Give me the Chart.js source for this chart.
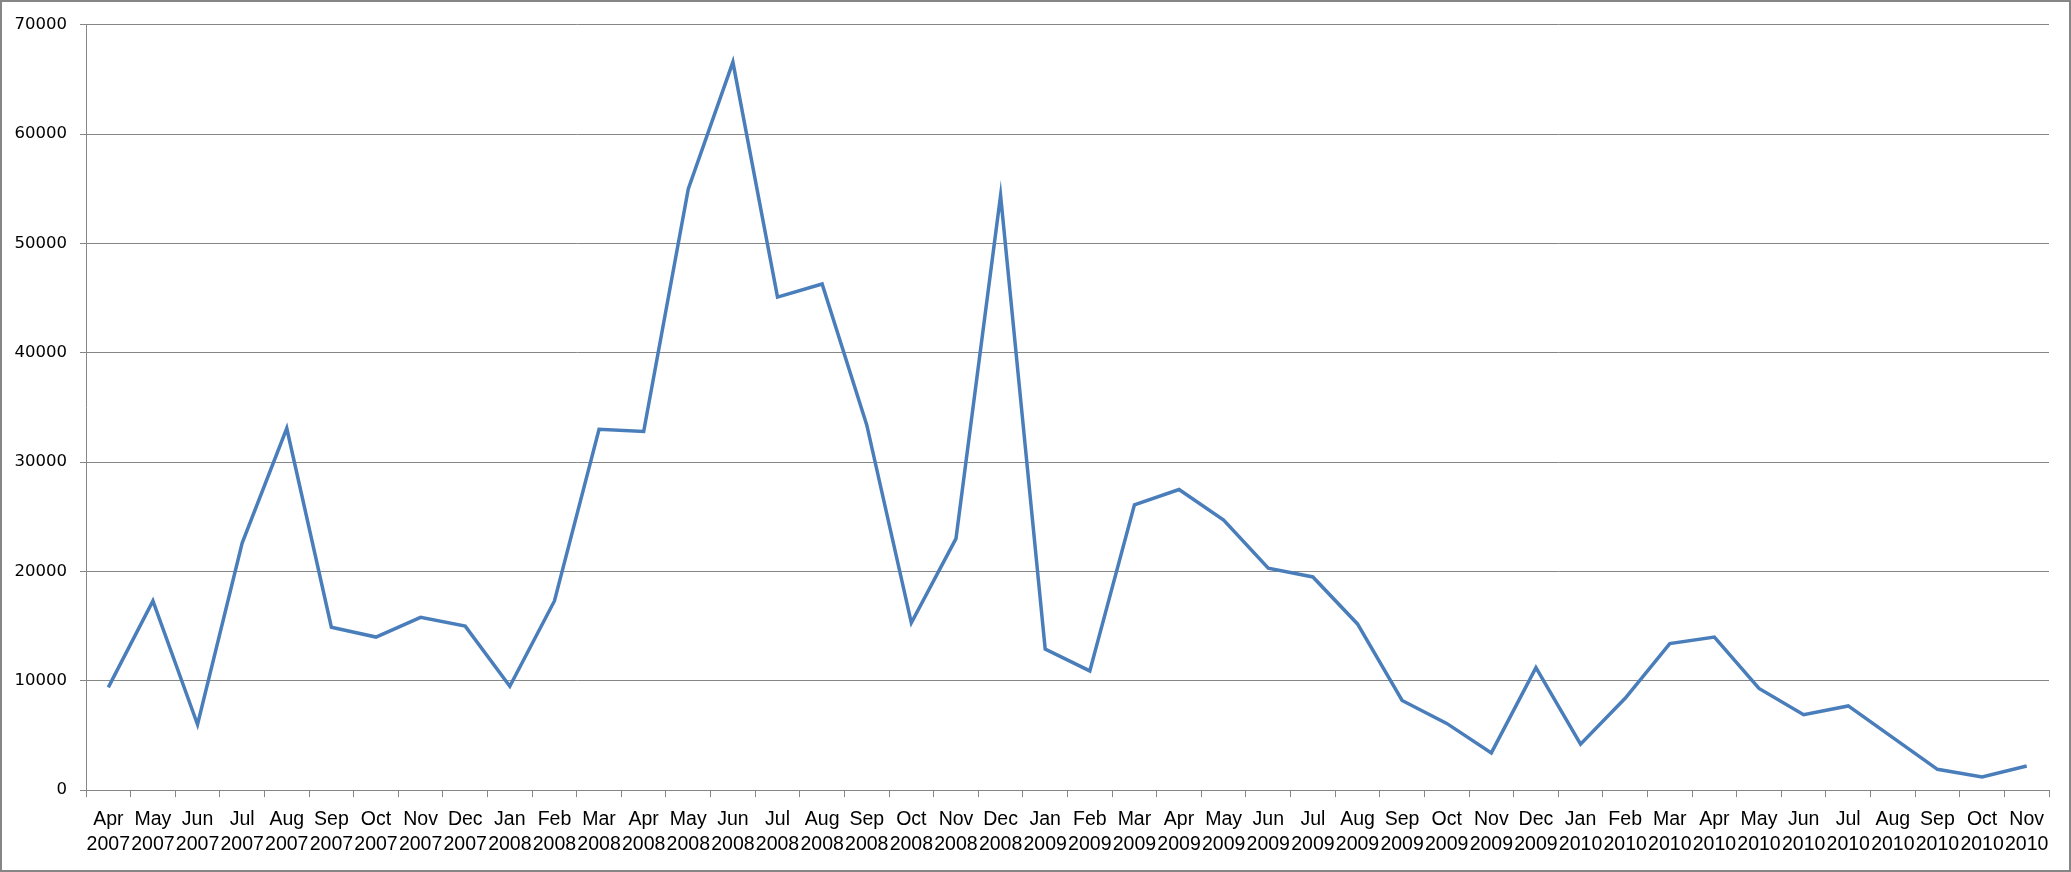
<!DOCTYPE html>
<html>
<head>
<meta charset="utf-8">
<script src="https://cdn.jsdelivr.net/npm/chart.js@4"></script>
<style>
  html, body { margin: 0; padding: 0; background: #fff; }
  #wrap {
    position: absolute; left: 0; top: 0;
    width: 2071px; height: 872px;
    box-sizing: border-box;
    border: 2px solid #868686;
  }
  #lineChart { display: block; }
</style>
</head>
<body>
<div id="wrap"><canvas id="lineChart" width="2067" height="868"></canvas></div>
<script>
const months = ['Apr', 'May', 'Jun', 'Jul', 'Aug', 'Sep', 'Oct', 'Nov', 'Dec',
    'Jan', 'Feb', 'Mar', 'Apr', 'May', 'Jun', 'Jul', 'Aug', 'Sep', 'Oct', 'Nov', 'Dec',
    'Jan', 'Feb', 'Mar', 'Apr', 'May', 'Jun', 'Jul', 'Aug', 'Sep', 'Oct', 'Nov', 'Dec',
    'Jan', 'Feb', 'Mar', 'Apr', 'May', 'Jun', 'Jul', 'Aug', 'Sep', 'Oct', 'Nov'];
const years = ['2007', '2007', '2007', '2007', '2007', '2007', '2007', '2007', '2007',
    '2008', '2008', '2008', '2008', '2008', '2008', '2008', '2008', '2008', '2008', '2008', '2008',
    '2009', '2009', '2009', '2009', '2009', '2009', '2009', '2009', '2009', '2009', '2009', '2009',
    '2010', '2010', '2010', '2010', '2010', '2010', '2010', '2010', '2010', '2010', '2010'];
const values = [9400, 17300, 6000, 22600, 33100, 14900, 14000, 15800, 15000,
    9500, 17300, 33000, 32800, 55000, 66600, 45100, 46300, 33400, 15300, 23000, 54400,
    12900, 10900, 26100, 27500, 24700, 20300, 19500, 15200, 8200, 6100, 3400, 11200,
    4200, 8400, 13400, 14000, 9300, 6900, 7700, 4800, 1900, 1200, 2200];
const yTicks = { min: 0, max: 70000, step: 10000 };

const labels = months.map((m, i) => [m, years[i]]);

const ctx = document.getElementById('lineChart').getContext('2d');
const lineChart = new Chart(ctx, {
    type: 'line',
    data: {
        labels: labels,
        datasets: [{
            data: values,
            borderColor: '#4A7EBB',
            borderWidth: 3.5,
            pointRadius: 0,
            tension: 0,
            fill: false
        }]
    },
    options: {
        responsive: false,
        animation: false,
        layout: {
            padding: { top: 22, right: 20, bottom: 3, left: 0 }
        },
        scales: {
            x: {
                offset: true,
                grid: {
                    offset: true,
                    drawOnChartArea: false,
                    drawTicks: true,
                    tickLength: 7,
                    color: '#868686'
                },
                border: { color: '#868686', width: 1 },
                ticks: {
                    autoSkip: false,
                    maxRotation: 0,
                    minRotation: 0,
                    padding: 10,
                    color: '#000',
                    font: { family: '"Liberation Sans Narrow", "Liberation Sans", sans-serif', size: 19.5, lineHeight: 1.28 }
                }
            },
            y: {
                min: yTicks.min,
                max: yTicks.max,
                afterFit: (scale) => { scale.width = 84; },
                grid: {
                    color: '#868686',
                    tickLength: 6,
                    lineWidth: 1
                },
                border: { color: '#868686', width: 1 },
                ticks: {
                    stepSize: yTicks.step,
                    padding: 13,
                    color: '#000',
                    callback: (v) => String(v),
                    font: { family: '"DejaVu Sans", sans-serif', size: 16.5 }
                }
            }
        },
        plugins: {
            legend: { display: false },
            tooltip: { enabled: false },
            title: { display: false }
        }
    },
    plugins: [{
        id: 'customBackgroundColor',
        beforeDraw: (chart) => {
            const ctx = chart.ctx;
            ctx.save();
            ctx.fillStyle = 'white';
            ctx.fillRect(0, 0, chart.width, chart.height);
            ctx.restore();
        }
    }]
});
</script>
</body>
</html>
